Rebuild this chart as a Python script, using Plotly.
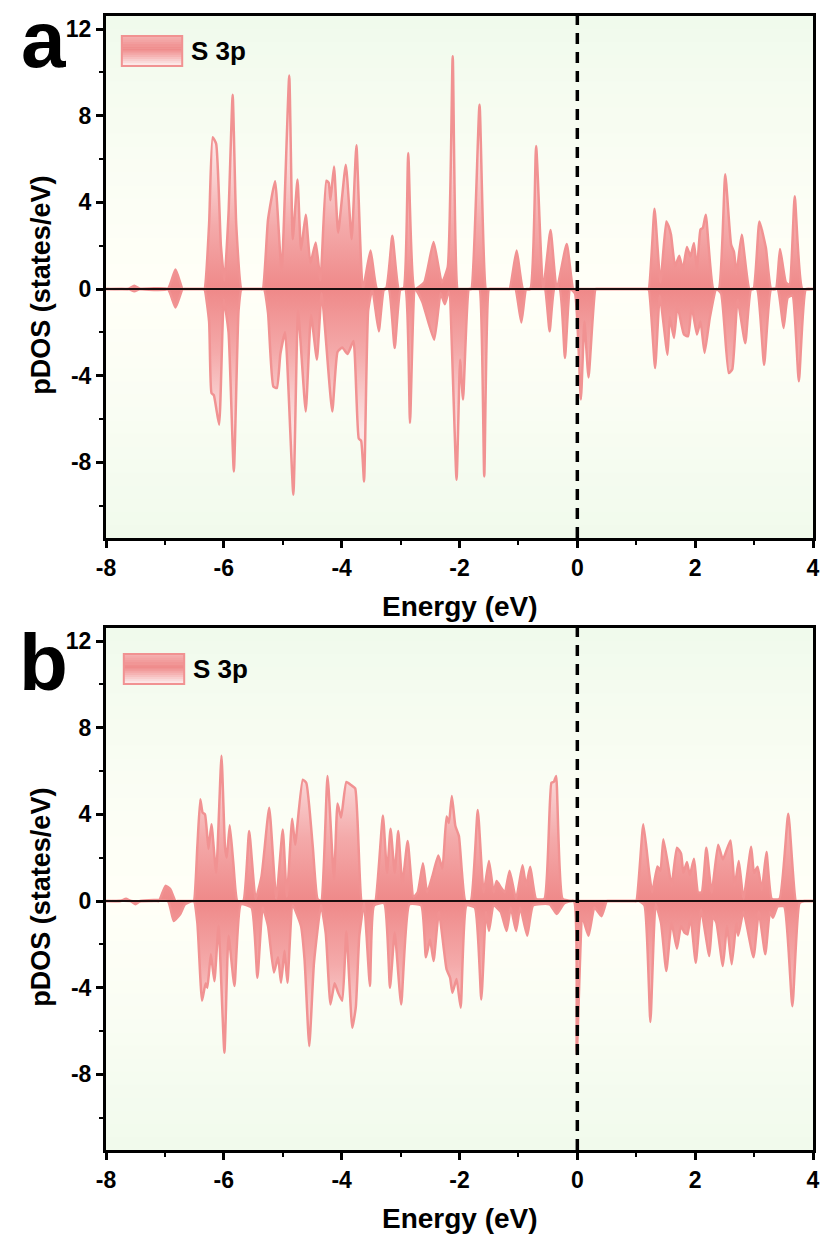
import plotly.graph_objects as go

# ---------------- data (energy eV, pDOS states/eV) ----------------
a_spin_up = [
    (-8.0, 0), (-7.62, 0), (-7.52, 0.15), (-7.42, 0), (-6.95, 0), (-6.82, 0.9), (-6.70, 0),
    (-6.66, 0), (-6.37, 0),
    (-6.33, 0), (-6.25, 3.0), (-6.19, 7.0), (-6.13, 6.7), (-6.05, 2.0), (-5.99, 0.4), (-5.92, 3.5),
    (-5.85, 8.97), (-5.79, 3.0), (-5.70, 0), (-5.66, 0), (-5.38, 0),
    (-5.34, 0), (-5.25, 3.2), (-5.13, 4.97), (-5.02, 0.8),
    (-4.89, 9.85), (-4.83, 2.3), (-4.75, 5.05), (-4.69, 1.8), (-4.61, 3.43), (-4.53, 1.2),
    (-4.44, 2.15), (-4.36, 0.4), (-4.26, 5.0), (-4.22, 4.9), (-4.19, 4.1), (-4.13, 5.66),
    (-4.06, 2.6), (-3.93, 5.74), (-3.83, 2.3), (-3.75, 6.63), (-3.64, 0), (-3.51, 1.78),
    (-3.40, 0), (-3.25, 0), (-3.14, 2.46), (-3.03, 0), (-2.95, 0), (-2.87, 6.28), (-2.76, 0),
    (-2.60, 0.3), (-2.44, 2.17), (-2.30, 0.3), (-2.20, 1.0), (-2.115, 10.74), (-2.03, 0),
    (-1.99, 0), (-1.84, 0),
    (-1.80, 0), (-1.66, 8.5), (-1.55, 0), (-1.51, 0), (-1.19, 0),
    (-1.15, 0), (-1.03, 1.78), (-0.92, 0), (-0.80, 0),
    (-0.70, 6.6), (-0.58, 0), (-0.455, 2.72), (-0.35, 0), (-0.18, 2.08), (-0.07, 0),
    (-0.03, 0), (1.17, 0),
    (1.21, 0), (1.31, 3.7), (1.41, 0.3), (1.51, 3.12), (1.55, 2.9), (1.59, 2.5), (1.66, 1.05),
    (1.73, 1.54), (1.79, 0.9), (1.86, 1.94), (1.92, 1.5), (1.98, 2.12), (2.03, 0.9), (2.09, 2.74),
    (2.13, 2.82), (2.18, 3.43), (2.31, 0), (2.40, 0), (2.51, 5.3), (2.61, 2.05), (2.66, 1.7),
    (2.70, 0.7), (2.79, 2.5), (2.92, 0), (2.99, 0), (3.09, 3.12), (3.20, 1.9), (3.29, 0),
    (3.37, 0), (3.44, 1.85), (3.54, 0.3), (3.60, 0.2), (3.69, 4.28), (3.82, 0), (4.0, 0),
]

a_spin_down = [
    (-8.0, 0), (-7.62, 0), (-7.52, -0.1), (-7.42, 0), (-6.95, 0), (-6.82, -0.85), (-6.70, 0),
    (-6.66, 0), (-6.37, 0),
    (-6.33, 0), (-6.25, -1.5), (-6.21, -4.8), (-6.17, -4.9), (-6.08, -6.26), (-6.00, -0.5),
    (-5.92, -2.0), (-5.83, -8.42), (-5.75, -1.0), (-5.70, 0), (-5.66, 0), (-5.36, 0),
    (-5.32, 0), (-5.25, -1.1),
    (-5.16, -4.5), (-5.10, -4.57), (-5.04, -3.0), (-4.96, -2.0), (-4.82, -9.49), (-4.74, -1.0),
    (-4.61, -5.65), (-4.52, -1.2), (-4.42, -3.26), (-4.34, -0.2), (-4.16, -5.65), (-4.07, -2.9),
    (-3.99, -2.7), (-3.90, -3.0), (-3.80, -2.4), (-3.71, -6.9), (-3.67, -7.0), (-3.62, -8.88),
    (-3.55, -1.0), (-3.48, 0), (-3.37, -1.95), (-3.28, 0), (-3.20, 0), (-3.10, -2.72), (-3.00, 0),
    (-2.92, 0), (-2.84, -6.18), (-2.75, 0), (-2.63, -0.6), (-2.43, -2.34), (-2.32, -0.2),
    (-2.25, -0.7), (-2.18, -0.1), (-2.05, -8.8), (-1.99, -3.26), (-1.94, -5.1), (-1.84, 0),
    (-1.80, 0), (-1.70, 0),
    (-1.66, 0), (-1.58, -8.65), (-1.50, 0), (-1.46, 0), (-1.09, 0),
    (-1.05, 0), (-0.95, -1.54), (-0.87, 0), (-0.83, 0), (-0.59, 0), (-0.55, 0),
    (-0.47, -1.95), (-0.39, 0), (-0.30, 0), (-0.21, -3.18), (-0.12, 0), (-0.04, -0.2),
    (0.06, -5.1), (0.12, -1.5), (0.19, -4.08), (0.31, 0), (0.35, 0), (1.17, 0),
    (1.21, 0), (1.32, -3.65), (1.40, -0.3),
    (1.53, -3.03), (1.57, -1.3), (1.64, -2.26), (1.70, -0.8), (1.81, -2.1), (1.88, -2.18),
    (1.94, -0.8), (2.03, -2.1), (2.09, -1.5), (2.16, -2.95), (2.25, -1.3), (2.36, 0), (2.44, -0.2),
    (2.57, -3.88), (2.63, -3.7), (2.72, -0.5), (2.85, -2.5), (2.95, 0), (3.05, 0), (3.17, -3.5),
    (3.29, 0), (3.40, 0), (3.50, -1.8), (3.57, -0.4), (3.65, -0.3), (3.76, -4.26), (3.88, 0),
    (4.0, 0),
]

b_spin_up = [
    (-8.0, 0), (-7.75, 0), (-7.66, 0.1), (-7.58, 0), (-7.14, 0), (-7.10, 0), (-6.99, 0.7),
    (-6.91, 0.55), (-6.82, 0), (-6.78, 0), (-6.55, 0),
    (-6.51, 0), (-6.45, 2.5), (-6.40, 4.7), (-6.36, 4.08), (-6.32, 4.0), (-6.26, 2.4),
    (-6.21, 3.54), (-6.13, 1.3), (-6.04, 6.7), (-5.98, 2.5), (-5.95, 2.0), (-5.90, 3.5),
    (-5.84, 1.8), (-5.77, 0), (-5.67, 0), (-5.57, 3.23), (-5.46, 0.1), (-5.36, 1.15), (-5.23, 4.3),
    (-5.11, 0.1), (-5.00, 3.3), (-4.93, 0.2), (-4.84, 3.8), (-4.79, 2.6), (-4.66, 5.6),
    (-4.60, 5.45), (-4.49, 2.5), (-4.41, 0.1), (-4.35, 0), (-4.24, 5.77), (-4.13, 1.0),
    (-4.07, 4.5), (-4.01, 3.85), (-3.92, 5.5), (-3.84, 5.35), (-3.77, 5.2), (-3.66, 0),
    (-3.62, 0), (-3.47, 0),
    (-3.43, 0), (-3.30, 3.95), (-3.23, 1.3), (-3.17, 3.34), (-3.10, 1.3), (-3.04, 3.23),
    (-2.97, 0.8), (-2.88, 2.77), (-2.78, 0.2), (-2.71, 0.4), (-2.62, 1.74), (-2.55, 0.4),
    (-2.46, 1.15), (-2.36, 2.1), (-2.29, 1.5), (-2.22, 3.9), (-2.18, 3.6), (-2.13, 4.85),
    (-2.07, 3.46), (-2.01, 3.0), (-1.90, 0), (-1.81, 0), (-1.69, 4.2), (-1.59, 0.4), (-1.50, 1.85),
    (-1.42, 0.4), (-1.37, 0.92), (-1.29, 0.6), (-1.23, 0.4), (-1.15, 1.4), (-1.04, 0.1),
    (-0.93, 1.65), (-0.87, 0.7), (-0.80, 1.58), (-0.70, 0.1), (-0.56, 0.1), (-0.44, 5.46),
    (-0.40, 5.5), (-0.36, 5.77), (-0.25, 0.1), (-0.10, 0), (-0.06, 0), (0.96, 0),
    (1.00, 0), (1.12, 3.54), (1.22, 1.3),
    (1.27, 0.4), (1.36, 1.6), (1.41, 1.4), (1.46, 2.85), (1.55, 1.5), (1.60, 0.7), (1.69, 2.46),
    (1.76, 2.2), (1.80, 1.3), (1.86, 1.8), (1.91, 1.2), (1.98, 1.95), (2.05, 0.4), (2.11, 0.4),
    (2.19, 2.46), (2.28, 0.4), (2.39, 2.6), (2.47, 1.92), (2.60, 2.8), (2.67, 0.7), (2.74, 1.85),
    (2.82, 0.1), (2.95, 2.5), (3.00, 1.3), (3.06, 1.58), (3.13, 0.5), (3.21, 2.26), (3.30, 0.1),
    (3.43, 0.1), (3.58, 4.03), (3.71, 0), (3.75, 0), (4.0, 0),
]

b_spin_down = [
    (-8.0, 0), (-7.58, 0), (-7.50, -0.15), (-7.42, 0), (-6.95, 0), (-6.85, -0.92), (-6.74, -0.6),
    (-6.66, -0.15), (-6.51, 0), (-6.45, -1.0), (-6.37, -4.6), (-6.31, -3.8), (-6.28, -4.0),
    (-6.22, -2.46), (-6.16, -3.7), (-6.09, -1.15), (-5.99, -7.0), (-5.92, -1.6), (-5.82, -3.92),
    (-5.71, -0.15), (-5.53, -0.3), (-5.43, -3.54), (-5.34, -0.3), (-5.25, -1.15), (-5.15, -3.3),
    (-5.08, -2.6), (-5.03, -3.77), (-4.97, -2.3), (-4.92, -3.77), (-4.83, -0.2), (-4.69, -1.15),
    (-4.63, -2.7), (-4.55, -6.7), (-4.47, -2.85), (-4.35, -0.2), (-4.27, -1.5), (-4.19, -4.77),
    (-4.12, -3.8), (-4.06, -4.23), (-3.99, -4.6), (-3.92, -1.4), (-3.82, -5.85), (-3.76, -4.9),
    (-3.70, -1.6), (-3.62, -0.1), (-3.52, -3.92), (-3.45, -0.2), (-3.28, -0.1), (-3.18, -4.0),
    (-3.10, -1.45), (-2.99, -4.77), (-2.85, -0.15), (-2.65, -0.2), (-2.57, -2.6), (-2.50, -1.77),
    (-2.44, -2.77), (-2.35, -0.5), (-2.22, -3.15), (-2.16, -3.54), (-2.12, -4.23), (-2.05, -3.6),
    (-1.98, -4.92), (-1.88, -0.2), (-1.74, -0.3), (-1.63, -4.54), (-1.55, -0.5), (-1.50, -1.38),
    (-1.42, -0.2), (-1.30, -0.5), (-1.20, -1.38), (-1.13, -0.3), (-1.04, -1.38), (-0.97, -0.3),
    (-0.85, -1.6), (-0.75, -0.2), (-0.47, -0.15), (-0.35, -0.6), (-0.22, -0.1), (-0.06, 0),
    (-0.01, -7.07), (0.09, -0.8), (0.19, -1.6), (0.29, -0.3), (0.41, -0.7), (0.50, 0),
    (0.54, 0), (1.01, 0), (1.05, 0),
    (1.14, -0.2), (1.24, -5.58), (1.33, -0.15), (1.42, -1.0), (1.51, -3.23), (1.60, -1.0),
    (1.69, -2.2), (1.76, -1.15), (1.82, -1.46), (1.87, -1.54), (1.92, -0.7), (2.01, -2.85),
    (2.10, -0.4), (2.24, -2.54), (2.30, -0.7), (2.36, -1.0), (2.47, -3.0), (2.54, -1.15),
    (2.62, -2.92), (2.70, -1.0), (2.73, -1.6), (2.82, -0.5), (2.99, -2.6), (3.08, -0.5),
    (3.19, -2.46), (3.27, -0.5), (3.32, -0.77), (3.40, -0.25), (3.51, -0.25), (3.65, -4.85),
    (3.77, -0.1), (3.85, 0), (3.89, 0), (4.0, 0),
]

x_tick_vals = [-8, -6, -4, -2, 0, 2, 4]
x_tick_text = ["-8", "-6", "-4", "-2", "0", "2", "4"]
y_tick_vals = [-8, -4, 0, 4, 8, 12]
y_tick_text = ["-8", "-4", "0", "4", "8", "12"]
legend_name = "S 3p"
panel_labels = ["a", "b"]

# ---------------- styling ----------------
FONT = "Liberation Sans, Arial, Helvetica, sans-serif"
LINE_C = "rgb(241,146,146)"
DARK = (239, 137, 137)
MID = (244, 170, 170)
LIGHT = (252, 230, 230)


def rgb(c):
    return "rgb(%d,%d,%d)" % tuple(int(round(v)) for v in c)


def mix(c1, c2, t):
    return tuple(a + (b - a) * t for a, b in zip(c1, c2))


fig = go.Figure()
panels = [("x", "y", a_spin_up, a_spin_down), ("x2", "y2", b_spin_up, b_spin_down)]
for xa, ya, up, dn in panels:
    for pts, sign in ((up, 1), (dn, -1)):
        ex = [p[0] for p in pts]
        dv = [p[1] for p in pts]
        if sign > 0:
            grad = dict(type="vertical", start=0, stop=6.5,
                        colorscale=[[0, rgb(DARK)], [0.45, rgb(MID)], [1, rgb(LIGHT)]])
        else:
            grad = dict(type="vertical", start=-6.5, stop=0,
                        colorscale=[[0, rgb(LIGHT)], [0.55, rgb(MID)], [1, rgb(DARK)]])
        fig.add_trace(go.Scatter(
            x=ex, y=dv, xaxis=xa, yaxis=ya, mode="lines",
            line=dict(color=LINE_C, width=2.5, shape="spline", smoothing=0.45),
            fill="tozeroy", fillgradient=grad, showlegend=False, hoverinfo="skip",
        ))

YR = [-11.49, 12.6]
axis_common = dict(
    showline=True, linecolor="black", linewidth=3, mirror=True,
    ticks="outside", ticklen=7, tickwidth=2.5, tickcolor="black",
    showgrid=False, zeroline=False,
    tickfont=dict(family=FONT, size=23, color="black", weight=700),
)
fig.update_layout(
    width=829, height=1241,
    margin=dict(l=106, r=9, t=16, b=91),
    paper_bgcolor="white", plot_bgcolor="rgb(250,253,244)",
    showlegend=False,
    xaxis=dict(domain=[0, 1], anchor="y", range=[-8, 4], tickmode="array",
               tickvals=x_tick_vals, ticktext=x_tick_text,
               minor=dict(dtick=1, ticks="outside", ticklen=4, tickwidth=2, tickcolor="black"),
               **axis_common),
    yaxis=dict(domain=[0.5397, 1], anchor="x", range=YR, tickmode="array",
               tickvals=y_tick_vals, ticktext=y_tick_text,
               minor=dict(dtick=2, tick0=0, ticks="outside", ticklen=4, tickwidth=2, tickcolor="black"),
               **axis_common),
    xaxis2=dict(domain=[0, 1], anchor="y2", range=[-8, 4], tickmode="array",
                tickvals=x_tick_vals, ticktext=x_tick_text,
                minor=dict(dtick=1, ticks="outside", ticklen=4, tickwidth=2, tickcolor="black"),
                **axis_common),
    yaxis2=dict(domain=[0, 0.4603], anchor="x2", range=YR, tickmode="array",
                tickvals=y_tick_vals, ticktext=y_tick_text,
                minor=dict(dtick=2, tick0=0, ticks="outside", ticklen=4, tickwidth=2, tickcolor="black"),
                **axis_common),
)

shapes = []
CREAM = (255, 255, 247)
GREEN = (240, 250, 236)
zero_dom = (0 - YR[0]) / (YR[1] - YR[0])
NB = 40
for yref in ("y domain", "y2 domain"):
    for i in range(NB):
        y0 = i / NB
        y1 = (i + 1) / NB
        yc = (y0 + y1) / 2
        t = abs(yc - zero_dom) / (1 - zero_dom if yc > zero_dom else zero_dom)
        shapes.append(dict(type="rect", xref="x domain" if yref == "y domain" else "x2 domain",
                           yref=yref, x0=0, x1=1, y0=y0, y1=y1 + 0.002,
                           fillcolor=rgb(mix(CREAM, GREEN, min(1, t) ** 1.3)),
                           line=dict(width=0), layer="below"))

# zero lines and Fermi level
for xr, yr, ydom in (("x", "y", "y domain"), ("x2", "y2", "y2 domain")):
    shapes.append(dict(type="line", xref=xr + " domain", yref=yr, x0=0, x1=1,
                       y0=0, y1=0, line=dict(color="rgb(25,15,15)", width=2), layer="above"))
    shapes.append(dict(type="line", xref=xr, yref=ydom, x0=0, x1=0, y0=0, y1=1,
                       line=dict(color="black", width=3.5, dash="11px,8px"), layer="above"))

# legend boxes (panel-relative domain coordinates)
legend_boxes = [("x domain", "y domain", 0.0224, 0.1078, 0.9042, 0.9617),
                ("x2 domain", "y2 domain", 0.0252, 0.1106, 0.8927, 0.9502)]
annotations = []
for xr, yr, bx0, bx1, by0, by1 in legend_boxes:
    nb = 14
    for i in range(nb):
        f = (i + 0.5) / nb  # 0 top -> 1 bottom
        if f < 0.45:
            c = mix((246, 182, 182), DARK, f / 0.45)
        else:
            c = mix(DARK, (253, 238, 238), (f - 0.45) / 0.55)
        ya1 = by1 - (by1 - by0) * i / nb
        ya0 = by1 - (by1 - by0) * (i + 1) / nb
        shapes.append(dict(type="rect", xref=xr, yref=yr, x0=bx0, x1=bx1, y0=ya0, y1=ya1 + 0.001,
                           fillcolor=rgb(c), line=dict(width=0), layer="above"))
    shapes.append(dict(type="rect", xref=xr, yref=yr, x0=bx0, x1=bx1, y0=by0, y1=by1,
                       fillcolor="rgba(0,0,0,0)", line=dict(color=LINE_C, width=2), layer="above"))
    annotations.append(dict(xref=xr, yref=yr, x=bx1 + 0.009, y=(by0 + by1) / 2,
                            text=legend_name, showarrow=False, xanchor="left", yanchor="middle",
                            font=dict(family=FONT, size=26, color="black", weight=700)))

# axis titles and panel labels
for ytit, ycen in ((0.4797, 0.7628), (-0.060, 0.2231)):
    annotations.append(dict(xref="paper", yref="paper", x=0.5, y=ytit, text="Energy (eV)",
                            showarrow=False, xanchor="center", yanchor="middle",
                            font=dict(family=FONT, size=28, color="black", weight=700)))
    annotations.append(dict(xref="paper", yref="paper", x=-0.0924, y=ycen, text="pDOS (states/eV)",
                            showarrow=False, xanchor="center", yanchor="middle", textangle=-90,
                            font=dict(family=FONT, size=27, color="black", weight=700)))
for lab, ylab in zip(panel_labels, (0.9790, 0.4300)):
    annotations.append(dict(xref="paper", yref="paper", x=-0.0882, y=ylab, text=lab,
                            showarrow=False, xanchor="center", yanchor="middle",
                            font=dict(family=FONT, size=80, color="black", weight=700)))

fig.update_layout(shapes=shapes, annotations=annotations)
fig.write_html("out.html")
